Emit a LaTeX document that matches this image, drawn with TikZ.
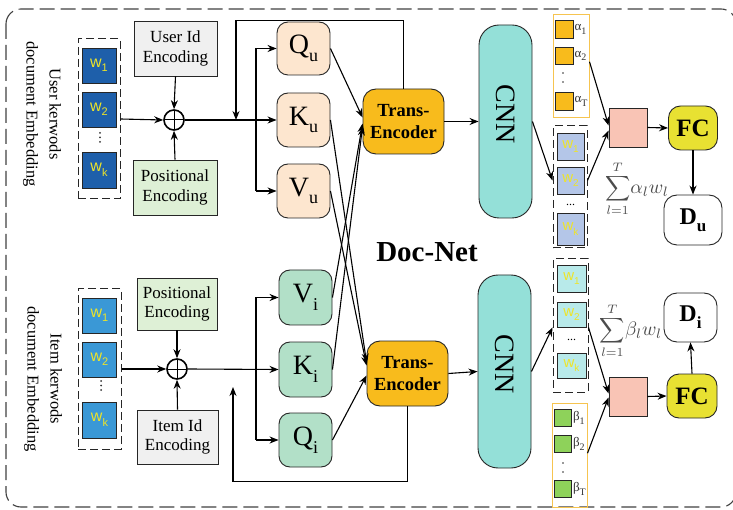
\RequirePackage{fix-cm}
\documentclass[tikz,border=0pt]{standalone}
\usepackage{fontspec}
\setmainfont{Liberation Serif}
\newfontfamily\wfont{Liberation Sans}
\usetikzlibrary{arrows.meta}
\definecolor{idgray}{RGB}{240,240,240}
\definecolor{posgreen}{RGB}{222,240,214}
\definecolor{uwblue}{RGB}{30,95,170}
\definecolor{iwblue}{RGB}{58,152,214}
\definecolor{wyellow}{RGB}{238,228,40}
\definecolor{qpeach}{RGB}{253,230,207}
\definecolor{qgreen}{RGB}{178,224,200}
\definecolor{teorange}{RGB}{248,187,28}
\definecolor{cnncol}{RGB}{148,224,216}
\definecolor{abord}{RGB}{246,196,80}
\definecolor{lav}{RGB}{180,198,232}
\definecolor{lcyan}{RGB}{184,234,234}
\definecolor{betag}{RGB}{142,210,90}
\definecolor{pinkc}{RGB}{249,196,181}
\definecolor{fcyel}{RGB}{232,225,50}
\newcommand\lowsub[2]{\raisebox{-0.28em}{\fontsize{#1}{#1}\selectfont #2}}
\newcommand\mysum[1]{\scalebox{1.75}{$\displaystyle\sum_{l=1}^{T}$}\scalebox{1.95}{$#1_l w_l$}}
\begin{document}
\begin{tikzpicture}[x=1pt,y=-1pt, line width=1.1pt, >={Stealth[length=9pt,width=7pt]},
  enc/.style={draw=black!85, line width=0.9pt, inner sep=0pt, align=center,
    font=\fontsize{17}{19.5}\selectfont, minimum width=83pt, minimum height=55pt},
  plusnode/.style={circle, draw, line width=1.6pt, minimum size=20pt, inner sep=0pt,
    path picture={\draw[line width=1pt] (path picture bounding box.north) -- (path picture bounding box.south)
      (path picture bounding box.west) -- (path picture bounding box.east);}},
  wdash/.style={draw=black!85, dash pattern=on 8pt off 4pt, line width=1pt, inner sep=0pt},
  wsq/.style={draw=black!85, line width=0.9pt, inner sep=0pt, minimum width=34pt, minimum height=35pt,
    text=wyellow, font=\wfont\fontsize{16}{16}\selectfont},
  wsqs/.style={draw=black!85, line width=0.9pt, inner sep=0pt, minimum width=27pt, minimum height=27pt,
    text=wyellow, font=\wfont\fontsize{15}{15}\selectfont},
  sidelab/.style={rotate=-90, align=center, font=\fontsize{16.5}{23}\selectfont},
  qkv/.style={draw=black!85, line width=0.9pt, rounded corners=11pt, minimum width=53pt, minimum height=54pt,
    inner sep=0pt, font=\fontsize{28}{28}\selectfont},
  te/.style={draw=black!85, line width=0.9pt, rounded corners=13pt, fill=teorange, minimum width=81pt,
    minimum height=65pt, inner sep=0pt, align=center, font=\bfseries\fontsize{18.5}{22}\selectfont},
  cnn/.style={draw=black!85, line width=0.9pt, rounded corners=20pt, fill=cnncol, minimum width=53pt,
    minimum height=193pt, inner sep=0pt},
  cnnlab/.style={rotate=-90, font=\fontsize{28}{28}\selectfont},
  gbox/.style={draw=abord, line width=1pt, inner sep=0pt, minimum width=36pt},
  gsq/.style={draw=black!85, line width=0.9pt, inner sep=0pt, minimum size=17.5pt},
  glab/.style={anchor=west, inner sep=0.3pt, font=\fontsize{13}{13}\selectfont, text=black!80},
  pinkbox/.style={draw=black!85, line width=0.9pt, fill=pinkc, minimum width=38pt, minimum height=39pt, inner sep=0pt},
  fcnode/.style={draw=black!85, line width=0.9pt, rounded corners=12pt, fill=fcyel, minimum width=49pt,
    minimum height=44pt, inner sep=0pt, font=\bfseries\fontsize{25}{25}\selectfont},
  dnode/.style={draw=black!85, line width=0.9pt, rounded corners=13pt, fill=white, minimum width=56pt,
    minimum height=50pt, inner sep=0pt, font=\bfseries\fontsize{24}{24}\selectfont},
  sumlab/.style={text=black!70, inner sep=0pt, font=\fontsize{10}{12}\selectfont},
  dotc/.style={circle, fill=black!80, inner sep=0pt, minimum size=2pt}
]
\useasboundingbox (0,0) rectangle (733,510);
% outer frame
\draw[black!75, dash pattern=on 15pt off 6pt, line width=1.1pt, rounded corners=15pt] (6,9) rectangle (736,507);

% ---------------- user branch ----------------
\node[sidelab] (ulab) at (42,114) {User kerwods\\document Embedding};
\node[wdash, minimum width=42pt, minimum height=160pt] (uwbox) at (99,119) {};
\node[wsq, fill=uwblue] (uw1) at (99,65.5) {w\lowsub{11}{1}};
\node[wsq, fill=uwblue] (uw2) at (99,109.5) {w\lowsub{11}{2}};
\node[wsq, fill=uwblue, minimum height=36pt] (uwk) at (99,170) {w\lowsub{11}{k}};
\node[dotc] (ud1) at (100,133) {};
\node[dotc] (ud2) at (100,137.5) {};
\node[dotc] (ud3) at (100,142) {};
\node[enc, fill=idgray] (uid) at (175.5,48.5) {User Id\\Encoding};
\node[enc, fill=posgreen, minimum width=84pt] (upos) at (175,187.5) {Positional\\Encoding};
\node[plusnode] (uplus) at (174,120) {};
\node[qkv, fill=qpeach, minimum height=53pt] (Qu) at (303.5,48.5) {Q\lowsub{18}{u}};
\node[qkv, fill=qpeach] (Ku) at (303.5,120) {K\lowsub{18}{u}};
\node[qkv, fill=qpeach] (Vu) at (303.5,191) {V\lowsub{18}{u}};
\node[te] (TEu) at (403.5,121.5) {Trans-\\Encoder};
\node[cnn] (CNNu) at (505.5,121.5) {};
\node[cnnlab] (CNNuL) at ([yshift=7pt]CNNu.center) {CNN};
\coordinate (ubx) at (256,120);
\coordinate (ufb) at (236,120);

% ---------------- item branch ----------------
\node[sidelab] (ilab) at (43,379) {Item kerwods\\document Embedding};
\node[wdash, minimum width=43pt, minimum height=160pt] (iwbox) at (99.5,369) {};
\node[wsq, fill=iwblue] (iw1) at (99.5,315.5) {w\lowsub{11}{1}};
\node[wsq, fill=iwblue] (iw2) at (99.5,359.5) {w\lowsub{11}{2}};
\node[wsq, fill=iwblue, minimum height=36pt] (iwk) at (99.5,420) {w\lowsub{11}{k}};
\node[dotc] (id1) at (101,381) {};
\node[dotc] (id2) at (101,385.5) {};
\node[dotc] (id3) at (101,390) {};
\node[enc, fill=posgreen, minimum width=80pt, minimum height=52pt] (ipos) at (177,304) {Positional\\Encoding};
\node[enc, fill=idgray, minimum width=81pt, minimum height=54pt] (iid) at (177.5,437) {Item Id\\Encoding};
\node[plusnode] (iplus) at (177,369) {};
\node[qkv, fill=qgreen, minimum height=55pt] (Vi) at (305.5,297.5) {V\lowsub{18}{i}};
\node[qkv, fill=qgreen, minimum height=55pt] (Ki) at (305.5,369.5) {K\lowsub{18}{i}};
\node[qkv, fill=qgreen, minimum height=54pt] (Qi) at (305.5,440) {Q\lowsub{18}{i}};
\node[te] (TEi) at (407.5,373.5) {Trans-\\Encoder};
\node[cnn] (CNNi) at (504.5,371.5) {};
\node[cnnlab] (CNNiL) at ([yshift=7pt]CNNi.center) {CNN};
\coordinate (ibx) at (256,369);
\coordinate (ifb) at (233,387);

\node[font=\bfseries\fontsize{29}{29}\selectfont] (docnet) at (427,252) {Doc-Net};

% ---------------- right top ----------------
\node[gbox, minimum height=103pt] (abox) at (571,66.5) {};
\node[gsq, fill=teorange] (a1) at (564.5,29.5) {};
\node[gsq, fill=teorange] (a2) at (564.5,56) {};
\node[gsq, fill=teorange] (aT) at (564.5,101.5) {};
\node[glab] (a1l) at (a1.east) {α\lowsub{10}{1}};
\node[glab] (a2l) at (a2.east) {α\lowsub{10}{2}};
\node[glab] (aTl) at (aT.east) {α\lowsub{10}{T}};
\node[dotc, minimum size=1.8pt] (ad1) at (563,73) {};
\node[dotc, minimum size=1.8pt] (ad2) at (563,82) {};
\node[wdash, minimum width=34pt, minimum height=122pt] (twbox) at (570,187) {};
\node[wsqs, fill=lav] (tw1) at (570.5,146.5) {w\lowsub{10}{1}};
\node[wsqs, fill=lav] (tw2) at (570.5,180.5) {w\lowsub{10}{2}};
\node[wsqs, fill=lav, minimum height=32pt] (twk) at (570.5,229) {w\lowsub{10}{k}};
\node[font=\fontsize{12}{12}\selectfont] (tdots) at (570.5,205) {...};
\node[pinkbox] (pu) at (628,127.5) {};
\node[fcnode] (FCu) at (693,128) {FC};
\node[dnode, minimum width=58pt] (Du) at (693,220) {D\lowsub{17}{u}};
\node[sumlab] (sumu) at (637,189) {\mysum{\alpha}};

% ---------------- right bottom ----------------
\node[wdash, minimum width=35pt, minimum height=133pt] (bwbox) at (570.5,325.5) {};
\node[wsqs, fill=lcyan, minimum width=29pt] (bw1) at (571.5,278.5) {w\lowsub{10}{1}};
\node[wsqs, fill=lcyan, minimum width=29pt, minimum height=25pt] (bw2) at (571.5,314.5) {w\lowsub{10}{2}};
\node[wsqs, fill=lcyan, minimum width=29pt, minimum height=25pt] (bwk) at (571.5,365.5) {w\lowsub{10}{k}};
\node[font=\fontsize{12}{12}\selectfont] (bdots) at (571.5,340) {...};
\node[gbox, minimum width=35pt, minimum height=104pt] (bbox) at (569.5,455) {};
\node[gsq, fill=betag] (b1) at (563,418) {};
\node[gsq, fill=betag] (b2) at (563,444) {};
\node[gsq, fill=betag] (bT) at (563,489) {};
\node[glab] (b1l) at (b1.east) {β\lowsub{10}{1}};
\node[glab] (b2l) at (b2.east) {β\lowsub{10}{2}};
\node[glab] (bTl) at (bT.east) {β\lowsub{10}{T}};
\node[dotc, minimum size=1.8pt] (bd1) at (563,463) {};
\node[dotc, minimum size=1.8pt] (bd2) at (563,472) {};
\node[pinkbox] (pi) at (628,396.5) {};
\node[fcnode, minimum width=50pt] (FCi) at (692,396) {FC};
\node[dnode, minimum width=53pt, minimum height=49pt] (Di) at (690.5,317.5) {D\lowsub{17}{i}};
\node[sumlab] (sumi) at (631,331) {\mysum{\beta}};

% ---------------- connectors: user ----------------
\draw[->] (uwbox.east) -- (uplus.west);
\draw[->] (uid.south) -- (uplus.north);
\draw[->] (upos.north) -- (uplus.south);
\draw[->] (uplus.east) -- (Ku.west);
\draw (ubx |- Qu.west) -- (ubx |- Vu.west);
\draw[->] (ubx |- Qu.west) -- (Qu.west);
\draw[->] (ubx |- Vu.west) -- (Vu.west);
\draw[->] (TEu.north) -- ++(0,-68) -| (ufb);
\draw[->] (Qu.east) -- ([yshift=4pt]TEu.west);
\draw[->] (Vi.east) -- ([yshift=-2pt]TEu.west);
\draw[->] (Ki.east) -- ([yshift=-5pt]TEu.west);
\draw[->] (Ku.east) -- ([yshift=11pt]TEi.west);
\draw[->] (Vu.east) -- ([yshift=8pt]TEi.west);
\draw[->] (TEu.east) -- (CNNu.west);
\draw[->] (CNNu.east) -- (twbox.west |- tw2.west);
\draw[->] (abox.east |- a2l.south) -- ([yshift=2pt]pu.west);
\draw[->] (twbox.east |- tw2.east) -- ([yshift=-3pt]pu.west);
\draw[->] (pu.east) -- (FCu.west);
\draw[->] (FCu.south) -- (Du.north);

% ---------------- connectors: item ----------------
\draw[->] (iwbox.east) -- (iplus.west);
\draw[->] (ipos.south) -- (iplus.north);
\draw[->] (iid.north) -- (iplus.south);
\draw[->] (iplus.east) -- (Ki.west);
\draw (ibx |- Vi.west) -- (ibx |- Qi.west);
\draw[->] (ibx |- Vi.west) -- (Vi.west);
\draw[->] (ibx |- Qi.west) -- (Qi.west);
\draw[->] (TEi.south) -- ++(0,75) -| (ifb);
\draw[->] (Qi.east) -- ([yshift=-2pt]TEi.west);
\draw[->] (TEi.east) -- (CNNi.west);
\draw[->] (CNNi.east) -- (bwbox.west |- bw2.south);
\draw[->] (bwbox.east |- bw2.south) -- ([yshift=3pt]pi.west);
\draw[->] (bbox.east |- b2.south) -- ([yshift=-1pt]pi.west);
\draw[->] (pi.east) -- (FCi.west);
\draw[->] (FCi.north) -- (Di.south);
\end{tikzpicture}
\end{document}
